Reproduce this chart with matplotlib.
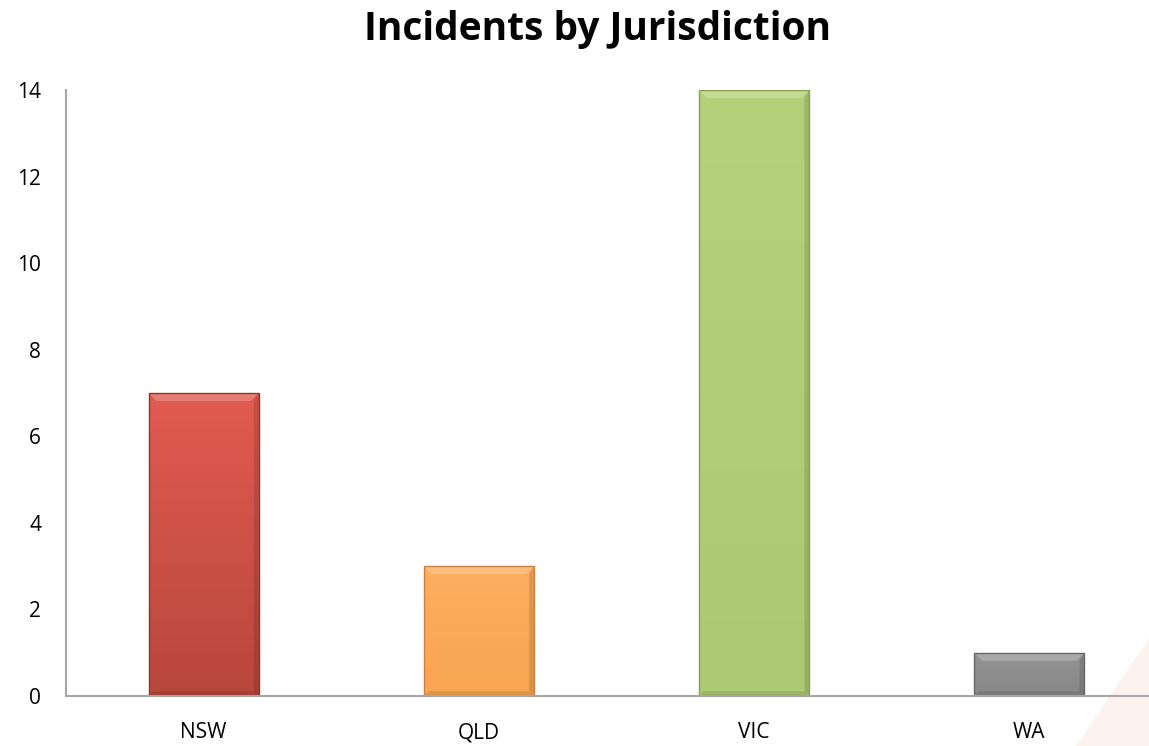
import numpy as np
import matplotlib.pyplot as plt
from matplotlib.patches import Polygon
from matplotlib.colors import LinearSegmentedColormap

plt.rcParams['font.family'] = ['Open Sans', 'DejaVu Sans']

jurisdictions = ['NSW', 'QLD', 'VIC', 'WA']
incidents = [7, 3, 14, 1]
top_colors = ['#e25b50', '#fdae5e', '#b5d17a', '#939393']
bottom_colors = ['#b8473c', '#f9a552', '#adc972', '#878787']
edge_colors = ['#8e3329', '#c98040', '#86a050', '#666666']

fig = plt.figure(figsize=(11.49, 7.46), dpi=100)

# faint decorative triangle in the corner
tri = Polygon([[1076 / 1149, 0], [1.0, 0], [1.0, 0.145]], closed=True,
              transform=fig.transFigure, facecolor='#fcf3ee', edgecolor='none', zorder=-5)
fig.patches.append(tri)

ax = fig.add_axes([66 / 1149, 50 / 746, 1101 / 1149, 606 / 746])
ax.patch.set_alpha(0)

x = np.arange(len(jurisdictions))
bars = ax.bar(x, incidents, width=0.40, color='none', edgecolor=edge_colors, linewidth=1.0, zorder=5)

ax.set_xlim(-0.5, 3.5)
ax.set_ylim(0, 14)

# bevel size in data units (about 8 px)
dx = 8 / (1101 / 4)
dy = 8 / (606 / 14)

grad = np.linspace(0, 1, 256).reshape(-1, 1)
for b, c_top, c_bot in zip(bars, top_colors, bottom_colors):
    cmap = LinearSegmentedColormap.from_list('g', [c_bot, c_top])
    x0, y0 = b.get_x(), b.get_y()
    x1, y1 = x0 + b.get_width(), y0 + b.get_height()
    im = ax.imshow(grad, cmap=cmap, aspect='auto', origin='lower',
                   extent=[x0, x1, y0, y1], zorder=3)
    im.set_clip_path(b)
    # bevel: light top, darker right and bottom
    ax.add_patch(Polygon([[x0, y1], [x1, y1], [x1 - dx, y1 - dy], [x0 + dx, y1 - dy]],
                         facecolor='white', alpha=0.22, edgecolor='none', zorder=4))
    ax.add_patch(Polygon([[x1, y1], [x1, y0], [x1 - dx * 0.6, y0 + dy * 0.6], [x1 - dx * 0.6, y1 - dy]],
                         facecolor='black', alpha=0.12, edgecolor='none', zorder=4))
    ax.add_patch(Polygon([[x0, y0], [x1, y0], [x1 - dx * 0.6, y0 + dy * 0.6], [x0 + dx * 0.6, y0 + dy * 0.6]],
                         facecolor='black', alpha=0.10, edgecolor='none', zorder=4))

ax.set_yticks(range(0, 15, 2))
ax.set_xticks(x)
ax.set_xticklabels(jurisdictions)
ax.tick_params(axis='both', length=0, labelsize=15, colors='black')
ax.tick_params(axis='x', pad=19)
ax.tick_params(axis='y', pad=18)

for s in ['top', 'right']:
    ax.spines[s].set_visible(False)
for s in ['left', 'bottom']:
    ax.spines[s].set_color('#a6a6a6')
    ax.spines[s].set_linewidth(1.5)
    ax.spines[s].set_zorder(6)

fig.text(598 / 1149, 1 - 40 / 746, 'Incidents by Jurisdiction', ha='center', va='baseline',
         fontsize=28, fontweight='bold')

plt.savefig('out.png', dpi=100)
